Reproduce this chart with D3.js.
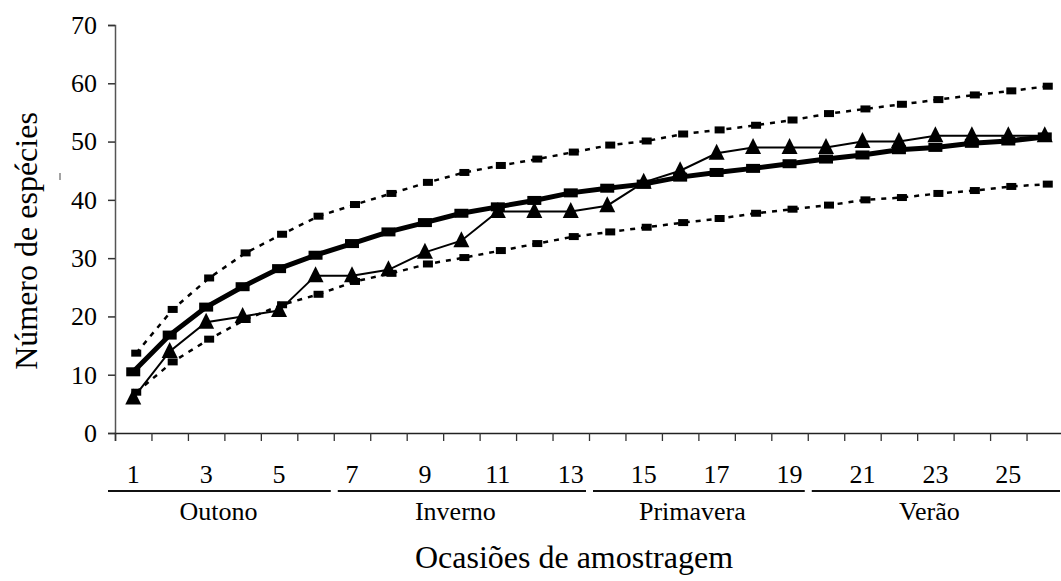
<!DOCTYPE html>
<html>
<head>
<meta charset="utf-8">
<script src="https://cdn.jsdelivr.net/npm/d3@7"></script>
<style>
  body { margin: 0; background: #fff; }
  svg text { font-family: "Liberation Serif", "Times New Roman", serif; fill: #000; }
</style>
</head>
<body>
<svg id="chart" width="1061" height="581"></svg>
<script>
// sampling occasions
var occasions = [1,2,3,4,5,6,7,8,9,10,11,12,13,14,15,16,17,18,19,20,21,22,23,24,25,26];
var xLabels = [1,3,5,7,9,11,13,15,17,19,21,23,25];
var yTicks = [0,10,20,30,40,50,60,70];

// estimated richness (mean) and its bounds
var mean  = [10.5,16.8,21.6,25.1,28.2,30.5,32.5,34.5,36.1,37.7,38.8,39.9,41.2,42.0,42.7,43.9,44.7,45.4,46.2,47.0,47.7,48.6,49.0,49.7,50.1,50.8];
var upper = [13.7,21.2,26.6,30.9,34.1,37.2,39.2,41.1,43.0,44.7,45.9,47.0,48.2,49.4,50.1,51.3,52.0,52.8,53.7,54.8,55.6,56.4,57.2,58.0,58.7,59.5];
var lower = [7.0,12.2,16.1,19.5,22.0,23.8,26.0,27.4,29.0,30.1,31.3,32.5,33.7,34.5,35.3,36.1,36.8,37.7,38.4,39.1,40.0,40.4,41.1,41.6,42.3,42.7];
// observed species count
var observed = [6,14,19,20,21,27,27,28,31,33,38,38,38,39,43,45,48,49,49,49,50,50,51,51,51,51];

var seasons = ["Outono", "Inverno", "Primavera", "Verão"];
var seasonStart = [1, 7, 14, 20];
var seasonEnd = [6, 13, 19, 26];

var svg = d3.select("#chart");

var xb = d3.scaleLinear().domain([0, occasions.length]).range([115, 1063]);
var xc = function(d) { return xb(d - 0.5); };
var y = d3.scaleLinear().domain([0, 70]).range([433, 25]);

// y axis
var yAxis = svg.append("g")
    .attr("transform", "translate(115,0)")
    .call(d3.axisLeft(y).tickValues(yTicks).tickSize(7).tickPadding(11));
yAxis.select(".domain").attr("stroke", "#555").attr("stroke-width", 1.5);
yAxis.selectAll(".tick line").attr("stroke", "#333").attr("stroke-width", 1.5);
yAxis.selectAll("text").style("font-size", "26px").attr("font-family", null);

// x axis (category boundaries)
var xAxis = svg.append("g")
    .attr("transform", "translate(0,433)")
    .call(d3.axisBottom(xb).tickValues(d3.range(0, occasions.length + 1)).tickSize(8).tickFormat(""));
xAxis.select(".domain").attr("stroke", "#222").attr("stroke-width", 1.5);
xAxis.selectAll(".tick line").attr("stroke", "#333").attr("stroke-width", 1.3);

svg.append("g").selectAll("text")
  .data(xLabels)
  .enter().append("text")
    .attr("x", function(d) { return xc(d); })
    .attr("y", 483)
    .attr("text-anchor", "middle")
    .style("font-size", "26px")
    .text(function(d) { return d; });

// seasons
var sg = svg.append("g");
seasons.forEach(function(s, i) {
  var x1 = i === 0 ? xb(0) - 7 : xb(seasonStart[i] - 1) + 4;
  var x2 = xb(seasonEnd[i]) - 3;
  sg.append("line")
    .attr("x1", x1).attr("x2", x2)
    .attr("y1", 491).attr("y2", 491)
    .attr("stroke", "#111").attr("stroke-width", 2);
  sg.append("text")
    .attr("x", (xb(seasonStart[i] - 1) + xb(seasonEnd[i])) / 2 - 6)
    .attr("y", 520)
    .attr("text-anchor", "middle")
    .style("font-size", "26px")
    .text(s);
});

// titles
svg.append("text")
  .attr("x", 574).attr("y", 568)
  .attr("text-anchor", "middle")
  .style("font-size", "32px")
  .text("Ocasiões de amostragem");

svg.append("text")
  .attr("transform", "translate(37,241) rotate(-90)")
  .attr("text-anchor", "middle")
  .style("font-size", "32px")
  .text("Número de espécies");

svg.append("line")
  .attr("x1", 60).attr("x2", 60).attr("y1", 173).attr("y2", 180)
  .attr("stroke", "#666").attr("stroke-width", 1.2);

// series
function lineFor(values) {
  return d3.line()
    .x(function(d, i) { return xc(occasions[i]); })
    .y(function(d) { return y(d); })(values);
}

var bounds = svg.append("g").attr("transform", "translate(3,0)");
[upper, lower].forEach(function(vals) {
  bounds.append("path")
    .attr("d", lineFor(vals))
    .attr("fill", "none")
    .attr("stroke", "#000")
    .attr("stroke-width", 2.5)
    .attr("stroke-dasharray", "5,6");
  bounds.append("g").selectAll("rect")
    .data(vals)
    .enter().append("rect")
      .attr("x", function(d, i) { return xc(occasions[i]) - 5; })
      .attr("y", function(d) { return y(d) - 3.5; })
      .attr("width", 10)
      .attr("height", 7)
      .attr("fill", "#000");
});

svg.append("path")
  .attr("d", lineFor(mean))
  .attr("fill", "none")
  .attr("stroke", "#000")
  .attr("stroke-width", 5);
svg.append("g").selectAll("rect")
  .data(mean)
  .enter().append("rect")
    .attr("x", function(d, i) { return xc(occasions[i]) - 7; })
    .attr("y", function(d) { return y(d) - 4.5; })
    .attr("width", 14)
    .attr("height", 9)
    .attr("fill", "#000");

svg.append("path")
  .attr("d", lineFor(observed))
  .attr("fill", "none")
  .attr("stroke", "#000")
  .attr("stroke-width", 2);
svg.append("g").selectAll("path")
  .data(observed)
  .enter().append("path")
    .attr("transform", function(d, i) { return "translate(" + xc(occasions[i]) + "," + y(d) + ")"; })
    .attr("d", "M0,-9.5L8,6.5L-8,6.5Z")
    .attr("fill", "#000");
</script>
</body>
</html>
